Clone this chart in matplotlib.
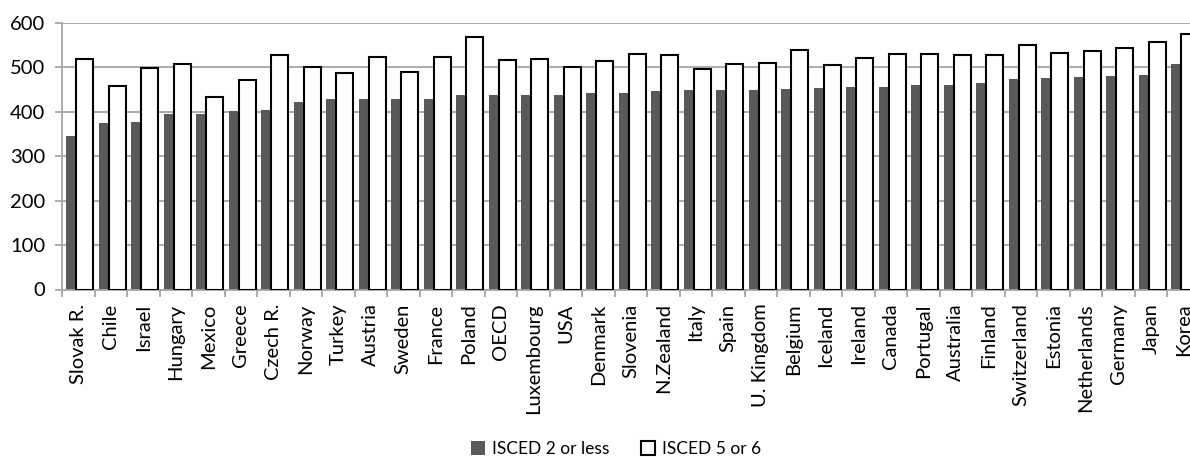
import matplotlib
matplotlib.use("Agg")
import matplotlib.pyplot as plt
from matplotlib.patches import Patch
import numpy as np

countries = ['Slovak R.', 'Chile', 'Israel', 'Hungary', 'Mexico', 'Greece', 'Czech R.',
             'Norway', 'Turkey', 'Austria', 'Sweden', 'France', 'Poland', 'OECD',
             'Luxembourg', 'USA', 'Denmark', 'Slovenia', 'N.Zealand', 'Italy', 'Spain',
             'U. Kingdom', 'Belgium', 'Iceland', 'Ireland', 'Canada', 'Portugal',
             'Australia', 'Finland', 'Switzerland', 'Estonia', 'Netherlands', 'Germany',
             'Japan', 'Korea']

isced_low = [345, 375, 376, 394, 396, 402, 405, 423, 428, 428, 428, 430, 438, 439,
             439, 439, 442, 443, 448, 449, 449, 450, 451, 454, 457, 457, 460, 460,
             466, 474, 477, 478, 480, 483, 508]

isced_high = [518, 458, 498, 508, 433, 472, 528, 502, 487, 523, 490, 523, 568, 517,
              518, 501, 514, 530, 528, 497, 507, 511, 539, 505, 521, 531, 531, 528,
              528, 550, 532, 538, 543, 557, 575]

plt.rcParams['font.family'] = ['Lato', 'DejaVu Sans']

fig = plt.figure(figsize=(11.9, 4.57), dpi=100)
# axes run a little past the right edge, so the last group gets clipped
ax = fig.add_axes([62 / 1190, 167.5 / 457, 1137.5 / 1190, 266.5 / 457])

x = np.arange(len(countries))
grid_col = '#a6a6a6'

ax.bar(x + 0.13, isced_low, width=0.40, align='edge', color='#595959',
       edgecolor='none', zorder=2)
ax.bar(x + 0.44, isced_high, width=0.515, align='edge', color='white',
       edgecolor='black', linewidth=1.5, zorder=3)

ax.set_xlim(0, len(countries))
ax.set_ylim(0, 600)
ax.set_yticks(range(0, 601, 100))
ax.yaxis.grid(True, color=grid_col, linewidth=1.3, zorder=0)
ax.set_axisbelow(True)

# labels centred on each group, tick marks on the group boundaries
ax.set_xticks(x + 0.5)
ax.set_xticklabels(countries, rotation=90, fontsize=14.5)
ax.set_xticks(np.arange(len(countries) + 1), minor=True)
ax.tick_params(axis='x', which='major', length=0, pad=10)
ax.tick_params(axis='x', which='minor', length=5, width=1.3, color=grid_col)
ax.tick_params(axis='y', length=5, width=1.3, color=grid_col, labelsize=14.5, pad=7)

for side in ['top', 'right']:
    ax.spines[side].set_visible(False)
for side in ['left', 'bottom']:
    ax.spines[side].set_color(grid_col)
    ax.spines[side].set_linewidth(1.3)

handles = [Patch(facecolor='#595959', edgecolor='none', label='ISCED 2 or less'),
           Patch(facecolor='white', edgecolor='black', linewidth=1.5, label='ISCED 5 or 6')]
fig.legend(handles=handles, loc='center', bbox_to_anchor=(616 / 1190, 1 - 449 / 457),
           ncol=2, frameon=False, fontsize=12.5, handlelength=0.8, handleheight=0.8,
           handletextpad=0.4, columnspacing=1.8)

fig.savefig('out.png', dpi=100)
